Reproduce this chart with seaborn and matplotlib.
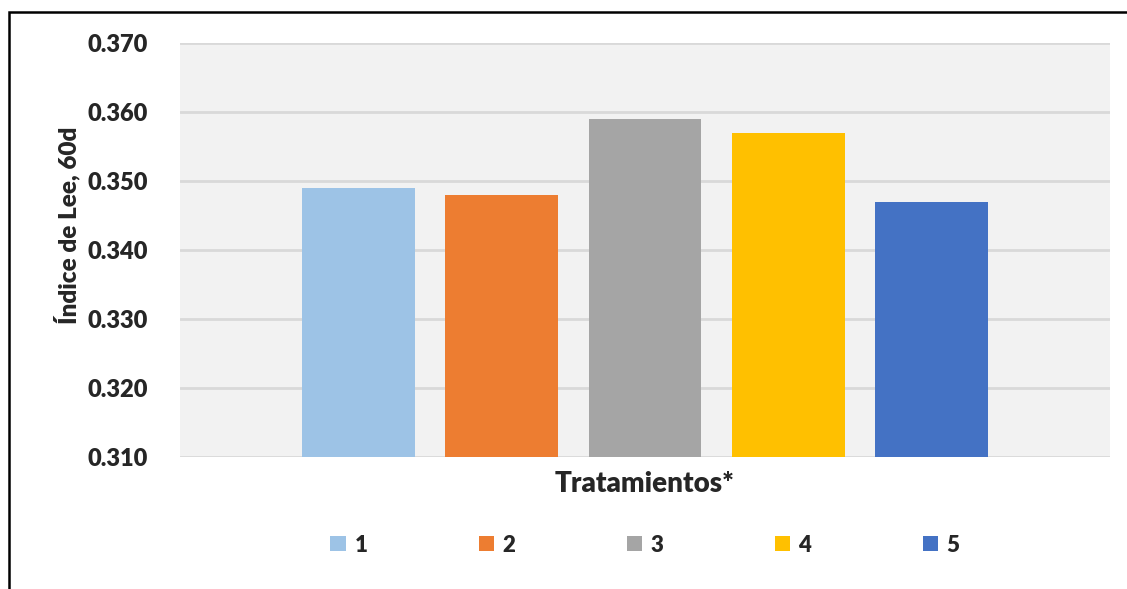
import matplotlib
matplotlib.use("Agg")
import matplotlib.pyplot as plt
from matplotlib.patches import Rectangle
import seaborn as sns
import pandas as pd

# Datos: índice de Lee a los 60 días por tratamiento
tratamientos = ["1", "2", "3", "4", "5"]
indice_lee = [0.349, 0.348, 0.359, 0.357, 0.347]
colores = ["#9DC3E6", "#ED7D31", "#A5A5A5", "#FFC000", "#4472C4"]
yticks = [0.310, 0.320, 0.330, 0.340, 0.350, 0.360, 0.370]

df = pd.DataFrame({
    "grupo": [""] * len(tratamientos),
    "Tratamiento": tratamientos,
    "Indice": indice_lee,
})

sns.set_theme(style="white")
plt.rcParams["font.family"] = ["Lato", "DejaVu Sans"]
peso = "heavy"

fig = plt.figure(figsize=(11.27, 5.89), dpi=100)
ax = fig.add_axes([180 / 1127, 1 - 457 / 589, 930 / 1127, 414 / 589])
ax.set_facecolor("#F2F2F2")

sns.barplot(
    data=df, x="grupo", y="Indice", hue="Tratamiento",
    palette=colores, width=0.769, gap=0.21, saturation=1,
    linewidth=0, ax=ax, zorder=3,
)

ax.set_xlim(-0.5, 0.5)
ax.set_ylim(0.310, 0.370)
ax.set_yticks(yticks)
ax.set_yticklabels([f"{v:.3f}" for v in yticks], fontsize=17, fontweight=peso)
ax.tick_params(axis="y", length=0, pad=23)
ax.tick_params(axis="x", length=0, labelbottom=False)
ax.yaxis.grid(True, color="#D9D9D9", linewidth=2)
ax.set_axisbelow(True)
for s in ax.spines.values():
    s.set_visible(False)

ax.set_xlabel("Tratamientos*", fontsize=20, fontweight=peso, labelpad=10)
ax.set_ylabel("Índice de Lee, 60d", fontsize=17.5, fontweight=peso)
ax.yaxis.set_label_coords(-0.107, 0.56)

# Leyenda centrada bajo el área de trazado
sns.move_legend(
    ax, "center", bbox_to_anchor=(645 / 1127, 1 - 545 / 589), bbox_transform=fig.transFigure,
    ncol=5, frameon=False, title=None, fontsize=16,
    handlelength=0.68, handleheight=0.68, handletextpad=0.4, columnspacing=5.0,
)
for t in ax.get_legend().get_texts():
    t.set_fontweight(peso)

# Marco exterior del gráfico
fig.patches.append(Rectangle((9 / 1127, -0.05), 1.2, 1 - 12 / 589 + 0.05,
                             transform=fig.transFigure, fill=False,
                             edgecolor="black", linewidth=1.8))

fig.savefig("out.png", dpi=100)
